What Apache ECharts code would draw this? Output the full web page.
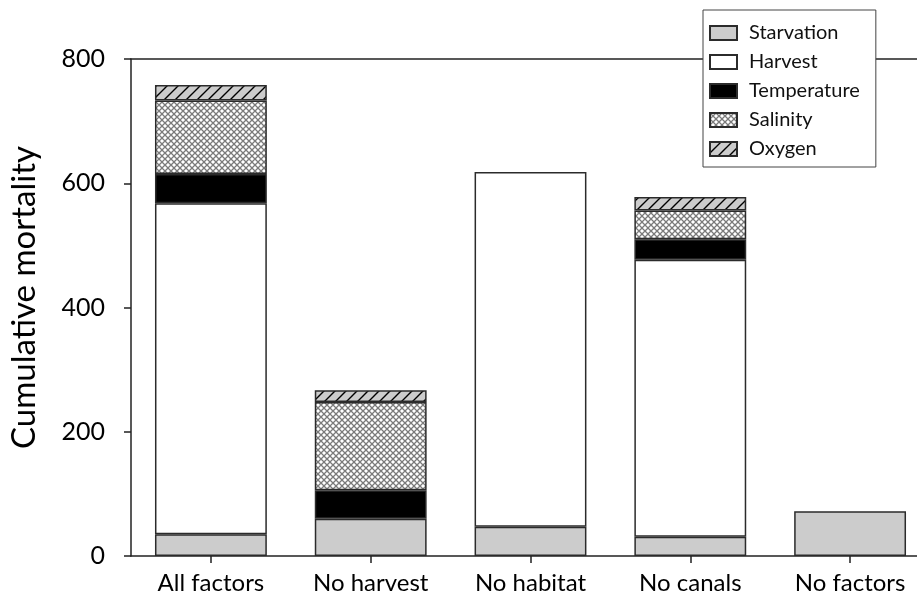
<!DOCTYPE html>
<html>
<head>
<meta charset="utf-8">
<script src="https://cdn.jsdelivr.net/npm/echarts@6/dist/echarts.min.js"></script>
<style>
html,body{margin:0;padding:0;background:#fff;overflow:hidden;width:917px;height:609px;}
#chart{width:930px;height:609px;}
</style>
</head>
<body>
<div id="chart"></div>
<script>
const categories = ['All factors', 'No harvest', 'No habitat', 'No canals', 'No factors'];
const starvation = [35, 60, 47, 31, 72];
const harvest = [533, null, 571, 446, null];
const temperature = [47, 46, null, 33, null];
const salinity = [118, 142, null, 46, null];
const oxygen = [25, 19, null, 22, null];
const yTicks = [0, 200, 400, 600, 800];

function crossPattern() {
  const c = document.createElement('canvas');
  c.width = 6; c.height = 6;
  const g = c.getContext('2d');
  g.fillStyle = '#ffffff'; g.fillRect(0, 0, 6, 6);
  g.strokeStyle = '#7a7a7a'; g.lineWidth = 1.3;
  g.beginPath();
  g.moveTo(0, 0); g.lineTo(6, 6);
  g.moveTo(6, 0); g.lineTo(0, 6);
  g.stroke();
  return c;
}
function hatchPattern() {
  const s = 11;
  const c = document.createElement('canvas');
  c.width = s; c.height = s;
  const g = c.getContext('2d');
  g.fillStyle = '#cccccc'; g.fillRect(0, 0, s, s);
  g.strokeStyle = '#000000'; g.lineWidth = 1.4;
  g.beginPath();
  g.moveTo(-2, s + 2); g.lineTo(s + 2, -2);
  g.moveTo(-2, 2); g.lineTo(2, -2);
  g.moveTo(s - 2, s + 2); g.lineTo(s + 2, s - 2);
  g.stroke();
  return c;
}

const border = '#2b2b2b';
const font = 'Lato, "Open Sans", sans-serif';
function mk(name, data, color) {
  return {
    name: name, type: 'bar', stack: 'total', data: data,
    barWidth: '70%',
    itemStyle: { color: color, borderColor: border, borderWidth: 1.5 },
    emphasis: { disabled: true }
  };
}

const chart = echarts.init(document.getElementById('chart'), null, { renderer: 'canvas' });
chart.setOption({
  animation: false,
  backgroundColor: '#fff',
  grid: { left: 130, top: 59, width: 800, height: 497 },
  legend: {
    left: 703, top: 10, orient: 'vertical',
    backgroundColor: '#fff', borderColor: '#444', borderWidth: 1,
    padding: [13, 16, 8, 6],
    icon: 'rect',
    itemWidth: 27, itemHeight: 14, itemGap: 9,
    textStyle: { fontFamily: font, fontSize: 20, color: '#111', padding: [0, 0, 0, 7] },
    data: ['Starvation', 'Harvest', 'Temperature', 'Salinity', 'Oxygen'],
    z: 10
  },
  xAxis: [{
    type: 'category', data: categories, position: 'bottom',
    axisLine: { lineStyle: { color: '#222', width: 1.5 } },
    axisTick: { show: true, alignWithLabel: true, length: 7, lineStyle: { color: '#222', width: 1.5 } },
    axisLabel: { fontFamily: font, fontSize: 24, color: '#000', margin: 15 }
  }, {
    type: 'category', data: categories, position: 'top',
    axisLine: { show: true, lineStyle: { color: '#222', width: 1.5 } },
    axisTick: { show: false }, axisLabel: { show: false }
  }],
  yAxis: {
    type: 'value', min: yTicks[0], max: yTicks[yTicks.length - 1], interval: 200,
    name: 'Cumulative mortality', nameLocation: 'middle', nameGap: 90,
    nameTextStyle: { fontFamily: font, fontSize: 33, color: '#000', padding: [0, 0, 0, 20] },
    axisLine: { show: true, lineStyle: { color: '#222', width: 1.5 } },
    axisTick: { show: true, length: 7, lineStyle: { color: '#222', width: 1.5 } },
    axisLabel: { fontFamily: font, fontSize: 25, color: '#000', margin: 26 },
    splitLine: { show: false }
  },
  series: [
    mk('Starvation', starvation, '#cccccc'),
    mk('Harvest', harvest, '#ffffff'),
    mk('Temperature', temperature, '#000000'),
    mk('Salinity', salinity, { image: crossPattern(), repeat: 'repeat' }),
    mk('Oxygen', oxygen, { image: hatchPattern(), repeat: 'repeat' })
  ]
});
</script>
</body>
</html>
